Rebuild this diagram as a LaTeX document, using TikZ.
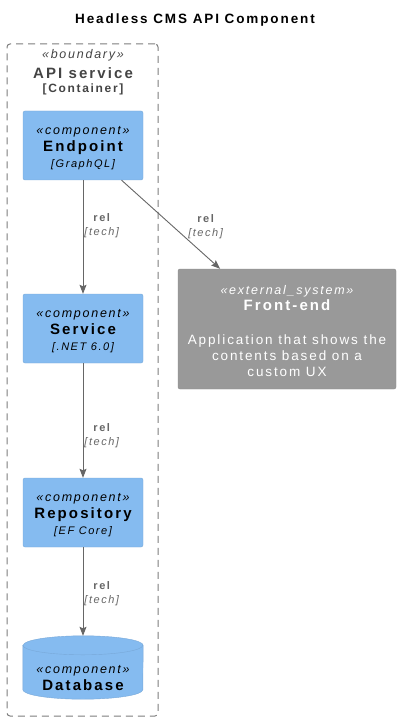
\documentclass[tikz,border=0pt]{standalone}
\usepackage{fontspec}
\setmainfont{Liberation Sans}
\newfontfamily\cfour[LetterSpace=14]{Liberation Sans}
\usetikzlibrary{
	arrows.meta,
	positioning
	}
\definecolor{compblue}{HTML}{85BBF0}
\definecolor{compline}{HTML}{78A8D8}
\definecolor{extgray}{HTML}{999999}
\definecolor{extline}{HTML}{8A8A8A}
\definecolor{relgray}{HTML}{666666}
\definecolor{bndgray}{HTML}{444444}
\newcommand{\stereo}[1]{\rule{0pt}{13.5pt}{\fontsize{12.5}{16}\selectfont\itshape «#1»}}
\newcommand{\cname}[1]{{\fontsize{15}{16}\selectfont\bfseries #1}}
\newcommand{\ctech}[1]{{\fontsize{11}{16}\selectfont\itshape [#1]}}
\newcommand{\rellabel}[2]{\rule{0pt}{12pt}{\bfseries #1}\\{\itshape [#2]}}
\tikzstyle{comp-std}=[draw=compline, fill=compblue, rounded corners=2pt, minimum width=120pt, minimum height=69pt, inner sep=0pt, align=center, font=\cfour\fontsize{12}{16.5}\selectfont]
\tikzstyle{db-box}=[minimum width=120pt, minimum height=63pt, inner sep=0pt]
\tikzstyle{db-std}=[draw=compline, fill=compblue]
\tikzstyle{db-txt}=[align=center, inner sep=0pt, font=\cfour\fontsize{12}{17}\selectfont]
\tikzstyle{ext-std}=[draw=extline, fill=extgray, text=white, rounded corners=2pt, minimum width=218pt, minimum height=120pt, inner sep=0pt, align=center, font=\cfour\fontsize{13.5}{16}\selectfont]
\tikzstyle{bnd-std}=[draw=bndgray!70, line width=1pt, dash pattern=on 7pt off 5pt, rounded corners=3pt, minimum width=151pt, minimum height=672pt]
\tikzstyle{rel-std}=[draw=relgray, line width=0.9pt, -{Stealth[length=9pt,width=7pt,inset=1.5pt]}]
\tikzstyle{rel-lbl}=[text=relgray, align=center, inner sep=1pt, font=\cfour\fontsize{11}{14}\selectfont]

\begin{document}
\begin{tikzpicture}[x=1pt, y=-1pt]
        \useasboundingbox (0,0) rectangle (402,722);
        \node[font=\cfour\fontsize{13.5}{16}\selectfont\bfseries] (title) at (195,20.5) {Headless CMS API Component};
        %
        \node[bnd-std] (api) at (82.5,380) {};
        \node[text=bndgray, align=center, font=\cfour\fontsize{12}{17}\selectfont] (api-lbl) at (83,70)
            {\stereo{boundary}\\[3pt]\cname{API service}\\[-3pt]{\bfseries [Container]}};
        %
        \node[comp-std] (ep) at (83,145.5) {\stereo{component}\\\cname{Endpoint}\\\ctech{GraphQL}}; % 1
        \node[comp-std] (sv) at (83,328.5) {\stereo{component}\\\cname{Service}\\\ctech{.NET 6.0}}; % 2
        \node[comp-std] (repo) at (83,512.5) {\stereo{component}\\\cname{Repository}\\\ctech{EF Core}}; % 3
        \node[db-box] (db) at (83,667.5) {}; % 4
        \draw[db-std] ([yshift=-9.5pt]db.north west) -- ([yshift=9.5pt]db.south west)
            arc[start angle=180, end angle=360, x radius=60pt, y radius=9.5pt]
            -- ([yshift=-9.5pt]db.north east)
            arc[start angle=0, end angle=180, x radius=60pt, y radius=9.5pt] -- cycle;
        \draw[draw=compline] ([yshift=-9.5pt]db.north west)
            arc[start angle=180, end angle=360, x radius=60pt, y radius=9.5pt];
        \node[db-txt] (db-lbl) at (83,675.5) {\stereo{component}\\\cname{Database}};
        %
        \node[ext-std] (fe) at (287,329)
            {\stereo{external\_system}\\\cname{Front-end}\\[18pt]Application that shows the\\contents based on a\\custom UX};
        %
        \draw[rel-std] (ep) -- node[rel-lbl, right=16pt, pos=0.5] {\rellabel{rel}{tech}} (fe);
        \draw[rel-std] (ep) -- node[rel-lbl, right, pos=0.386] {\rellabel{rel}{tech}} (sv);
        \draw[rel-std] (sv) -- node[rel-lbl, right, pos=0.617] {\rellabel{rel}{tech}} (repo);
        \draw[rel-std] (repo) -- node[rel-lbl, right, pos=0.506] {\rellabel{rel}{tech}} (db);
    \end{tikzpicture}
\end{document}
